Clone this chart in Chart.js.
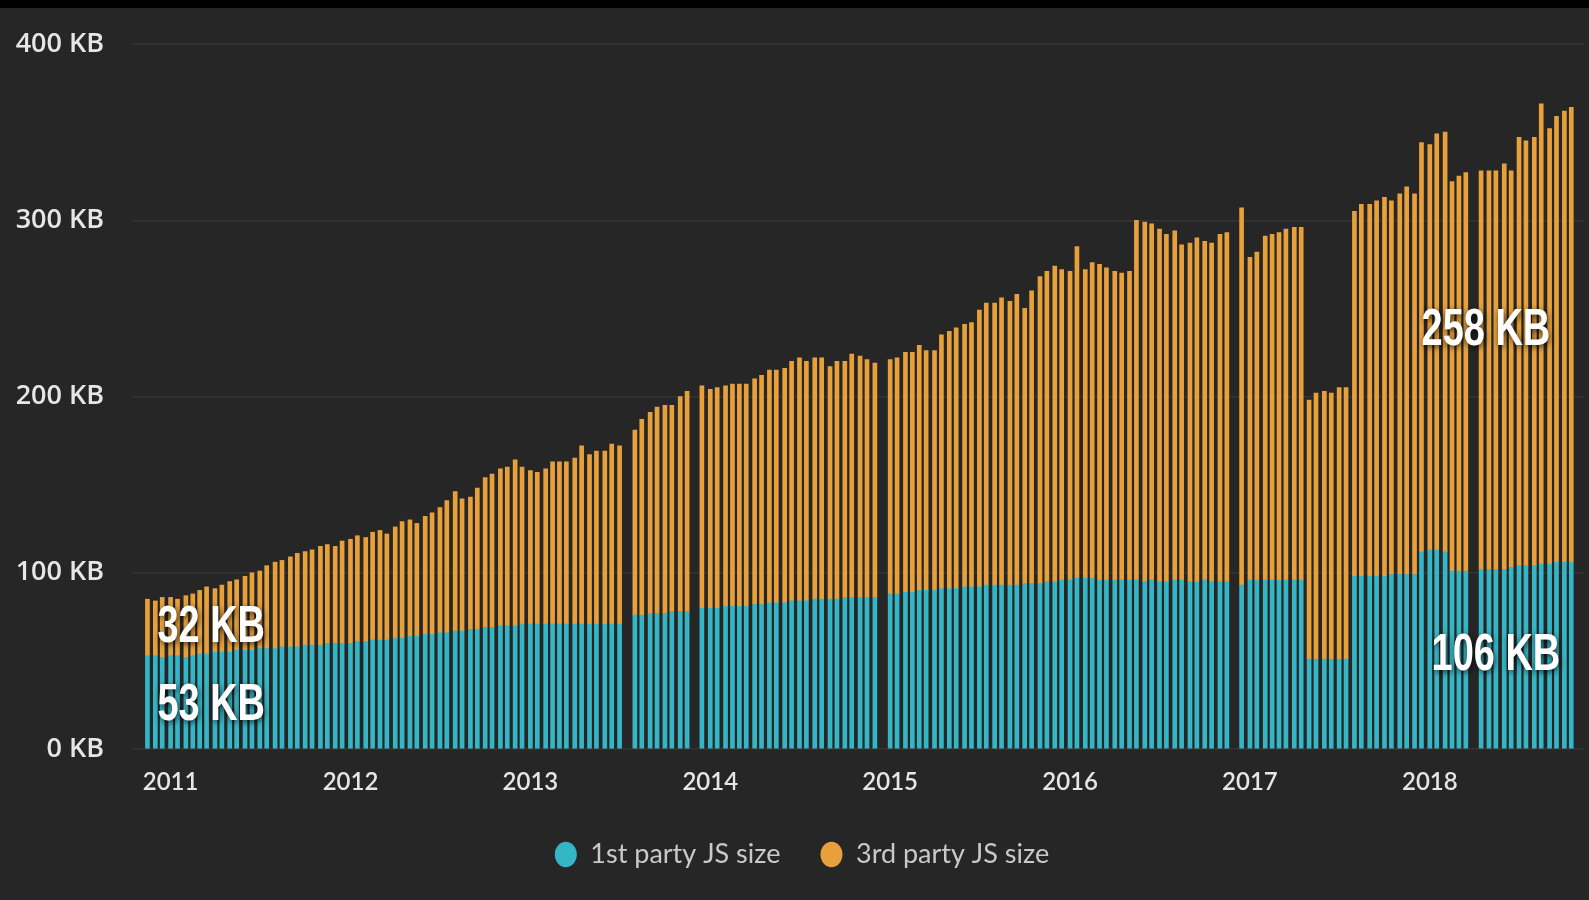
<!DOCTYPE html>
<html><head><meta charset="utf-8">
<script src="https://cdn.jsdelivr.net/npm/chart.js@4.4.1/dist/chart.umd.min.js"></script>
<style>
html,body{margin:0;padding:0;background:#262626;width:1589px;height:900px;overflow:hidden}
#strip{position:absolute;left:0;top:0;width:1589px;height:8px;background:#000}
#wrap{position:absolute;left:0;top:8px;width:1589px;height:892px}
</style></head><body>
<div id="strip"></div>
<div id="wrap"><canvas id="c"></canvas></div>
<script>
// HTTP Archive crawl dates (semi-monthly)
const dates = [
"2010-11-15","2010-12-01","2010-12-15",
"2011-01-01","2011-01-15","2011-02-01","2011-02-15","2011-03-01","2011-03-15","2011-04-01","2011-04-15","2011-05-01","2011-05-15","2011-06-01","2011-06-15","2011-07-01","2011-07-15","2011-08-01","2011-08-15","2011-09-01","2011-09-15","2011-10-01","2011-10-15","2011-11-01","2011-11-15","2011-12-01","2011-12-15",
"2012-01-01","2012-01-15","2012-02-01","2012-02-15","2012-03-01","2012-03-15","2012-04-01","2012-04-15","2012-05-01","2012-05-15","2012-06-01","2012-06-15","2012-07-01","2012-07-15","2012-08-01","2012-08-15","2012-09-01","2012-09-15","2012-10-01","2012-10-15","2012-11-01","2012-11-15","2012-12-01","2012-12-15",
"2013-01-01","2013-01-15","2013-02-01","2013-02-15","2013-03-01","2013-03-15","2013-04-01","2013-04-15","2013-05-01","2013-05-15","2013-06-01","2013-06-15","2013-07-01","2013-07-15","2013-08-01","2013-08-15","2013-09-01","2013-09-15","2013-10-01","2013-10-15","2013-11-01","2013-11-15","2013-12-01","2013-12-15",
"2014-01-01","2014-01-15","2014-02-01","2014-02-15","2014-03-01","2014-03-15","2014-04-01","2014-04-15","2014-05-01","2014-05-15","2014-06-01","2014-06-15","2014-07-01","2014-07-15","2014-08-01","2014-08-15","2014-09-01","2014-09-15","2014-10-01","2014-10-15","2014-11-01","2014-11-15","2014-12-01","2014-12-15",
"2015-01-01","2015-01-15","2015-02-01","2015-02-15","2015-03-01","2015-03-15","2015-04-01","2015-04-15","2015-05-01","2015-05-15","2015-06-01","2015-06-15","2015-07-01","2015-07-15","2015-08-01","2015-08-15","2015-09-01","2015-09-15","2015-10-01","2015-10-15","2015-11-01","2015-11-15","2015-12-01","2015-12-15",
"2016-01-01","2016-01-15","2016-02-01","2016-02-15","2016-03-01","2016-03-15","2016-04-01","2016-04-15","2016-05-01","2016-05-15","2016-06-01","2016-06-15","2016-07-01","2016-07-15","2016-08-01","2016-08-15","2016-09-01","2016-09-15","2016-10-01","2016-10-15","2016-11-01","2016-11-15","2016-12-01","2016-12-15",
"2017-01-01","2017-01-15","2017-02-01","2017-02-15","2017-03-01","2017-03-15","2017-04-01","2017-04-15","2017-05-01","2017-05-15","2017-06-01","2017-06-15","2017-07-01","2017-07-15","2017-08-01","2017-08-15","2017-09-01","2017-09-15","2017-10-01","2017-10-15","2017-11-01","2017-11-15","2017-12-01","2017-12-15",
"2018-01-01","2018-01-15","2018-02-01","2018-02-15","2018-03-01","2018-03-15","2018-04-01","2018-04-15","2018-05-01","2018-05-15","2018-06-01","2018-06-15","2018-07-01","2018-07-15","2018-08-01","2018-08-15","2018-09-01","2018-09-15","2018-10-01","2018-10-15"
];
// 1st party JS size (KB), null = no crawl shown
const firstParty = [
53,53,52,53,53,52,53,54,54,55,
55,55,56,56,56,57,57,57,58,58,
58,59,59,59,60,60,60,60,61,61,
62,62,62,63,63,64,64,65,65,66,
66,67,67,68,68,69,69,70,70,70,
71,71,71,71,71,71,71,71,71,71,
71,71,71,71,null,76,76,77,77,77,
78,78,78,null,80,80,80,81,81,81,
81,82,82,83,83,83,84,84,84,85,
85,85,85,86,86,86,86,86,null,88,
88,89,89,90,90,90,91,91,91,92,
92,92,93,93,93,93,93,94,94,94,
95,95,96,96,97,97,97,96,96,96,
96,96,96,95,96,95,95,96,96,95,
95,96,95,95,95,null,93,96,96,96,
96,96,96,96,96,51,51,51,51,51,
51,98,98,98,98,98,99,99,99,99,
112,113,113,112,101,101,101,null,102,102,
102,102,103,104,104,104,105,105,106,106,
106
];
// 3rd party JS size (KB)
const thirdParty = [
32,31,34,33,32,35,35,36,38,36,
38,40,40,42,44,44,47,49,49,51,
53,53,54,56,56,55,58,59,60,59,
61,62,60,63,66,66,64,67,69,71,
75,79,75,75,80,85,87,89,90,94,
89,87,86,88,92,92,92,94,101,96,
98,98,102,101,null,105,111,114,117,118,
117,122,125,null,126,124,125,125,126,126,
126,128,130,132,132,133,136,138,136,137,
137,132,135,134,138,137,135,133,null,133,
134,136,136,139,136,136,144,146,148,149,
150,157,160,160,163,161,165,156,166,174,
176,179,176,175,188,175,179,179,177,175,
174,175,204,204,202,200,197,198,190,192,
195,192,192,197,198,null,214,183,186,195,
196,197,199,200,200,147,151,152,151,154,
154,207,211,211,213,215,212,216,220,216,
232,230,236,238,221,224,226,null,226,226,
226,230,225,243,241,243,261,247,253,256,
258
];
const seriesNames = ["1st party JS size", "3rd party JS size"];
const yTickValues = [0, 100, 200, 300, 400];
const xRange = [2010.7854, 2018.857];

const TEAL = "#35b6c6", ORANGE = "#e8a13a";

function decYear(s){
  const [y,m,d] = s.split("-").map(Number);
  const t = Date.UTC(y,m-1,d), a = Date.UTC(y,0,1), b = Date.UTC(y+1,0,1);
  return y + (t-a)/(b-a);
}
function points(vals){
  const out = [];
  dates.forEach((d,i)=>{ if (vals[i] !== null) out.push({x: decYear(d), y: vals[i]}); });
  return out;
}

const annPlugin = {
  id: "ann",
  afterLayout(chart){
    // centre the legend row the way the reference does
    const l = chart.legend;
    if (l) { l.left += 10; l.right += 10; }
  },
  afterDatasetsDraw(chart){
    const {ctx, scales:{x, y}} = chart;
    const n = dates.length - 1;
    const x0 = x.getPixelForValue(decYear(dates[0]));
    const xN = x.getPixelForValue(decYear(dates[n]));
    function draw(txt, px, py, align){
      ctx.save();
      ctx.translate(px, py);
      ctx.scale(0.73, 1);
      ctx.font = 'bold 52px "Liberation Sans", Arial, sans-serif';
      ctx.textAlign = align;
      ctx.textBaseline = "middle";
      ctx.shadowColor = "rgba(0,0,0,0.75)";
      ctx.shadowBlur = 6;
      ctx.shadowOffsetX = 1; ctx.shadowOffsetY = 2;
      ctx.fillStyle = "#ffffff";
      ctx.fillText(txt, 0, 0);
      ctx.restore();
    }
    draw(firstParty[0] + " KB", x0 + 10, y.getPixelForValue(firstParty[0]/2) + 3, "left");
    draw(thirdParty[0] + " KB", x0 + 10, y.getPixelForValue(firstParty[0] + thirdParty[0]/2), "left");
    draw(firstParty[n] + " KB", xN - 11, y.getPixelForValue(firstParty[n]/2), "right");
    draw(thirdParty[n] + " KB", xN - 21, y.getPixelForValue(firstParty[n] + thirdParty[n]/2) - 4, "right");
  }
};

const xFont = {family: "Lato, 'Open Sans', sans-serif", size: 24, weight: "600"};
const yFont = {family: "'Open Sans', Lato, sans-serif", size: 27, weight: "600"};

new Chart(document.getElementById("c"), {
  type: "bar",
  data: {
    datasets: [
      {label: seriesNames[0], data: points(firstParty), backgroundColor: TEAL, barThickness: 4, borderWidth: 0},
      {label: seriesNames[1], data: points(thirdParty), backgroundColor: ORANGE, barThickness: 4, borderWidth: 0}
    ]
  },
  options: {
    responsive: true,
    maintainAspectRatio: false,
    animation: false,
    layout: {padding: {left: 0, right: 5, top: 36, bottom: 22}},
    scales: {
      x: {
        type: "linear", stacked: true, offset: false, min: xRange[0], max: xRange[1],
        afterFit(s){ s.height = 52; },
        grid: {display: false}, border: {display: false},
        ticks: {stepSize: 1, includeBounds: false, autoSkip: false, maxRotation: 0, padding: 11,
                color: "#e6e6e6", font: xFont, callback: v => String(v)}
      },
      y: {
        stacked: true, min: yTickValues[0], max: yTickValues[yTickValues.length-1],
        afterFit(s){ s.width = 132; s.paddingTop = 16; s.paddingBottom = 16; },
        afterBuildTicks(s){ s.ticks = yTickValues.map(v => ({value: v})); },
        grid: {color: "#343434", lineWidth: 1.5, drawTicks: false}, border: {display: false},
        ticks: {padding: 28, color: "#e6e6e6", font: yFont, callback: v => v + " KB"}
      }
    },
    plugins: {
      legend: {
        position: "bottom",
        labels: {usePointStyle: true, pointStyle: "circle", boxHeight: 18, pointStyleWidth: 22,
                 padding: 40, color: "#c9c9c9", font: {family: "Lato, 'Open Sans', sans-serif", size: 27}}
      },
      tooltip: {enabled: false}
    }
  },
  plugins: [annPlugin]
});
</script>
</body></html>
